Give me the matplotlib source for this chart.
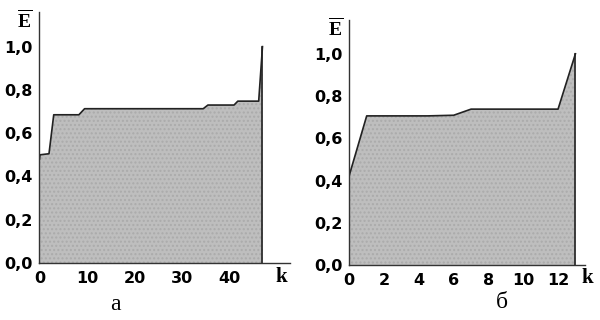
import matplotlib
matplotlib.use("Agg")
import matplotlib.pyplot as plt

plt.rcParams["mathtext.fontset"] = "custom"
plt.rcParams["mathtext.rm"] = "Liberation Serif"
plt.rcParams["mathtext.bf"] = "Liberation Serif:bold"

# Panel a data
k_a = [0, 0.1, 2, 3, 8.3, 9.5, 34.5, 35.5, 41, 41.8, 46.2, 47]
e_a = [0.48, 0.50, 0.505, 0.685, 0.685, 0.713, 0.713, 0.730, 0.730, 0.748, 0.748, 1.0]
xticks_a = [0, 10, 20, 30, 40]

# Panel b data
k_b = [0, 1, 4.5, 6, 7, 12, 13]
e_b = [0.425, 0.706, 0.706, 0.709, 0.738, 0.738, 1.0]
xticks_b = [0, 2, 4, 6, 8, 10, 12]

yticks = [0.0, 0.2, 0.4, 0.6, 0.8, 1.0]
ytick_labels = ["0,0", "0,2", "0,4", "0,6", "0,8", "1,0"]

fig = plt.figure(figsize=(6, 3.2), dpi=100)
fig.patch.set_facecolor("white")

fill_col = "#bebebe"

def draw(ax, k, e, xticks, xmax, label_char, label_xy, k_xy, e_xy):
    ax.fill_between(k, 0, e, facecolor=fill_col, edgecolor="#ababab",
                    hatch="....", linewidth=0)
    ax.plot(k, e, color="#222222", lw=1.2)
    ax.plot([k[-1], k[-1]], [0, e[-1]], color="#222222", lw=1.2)
    ax.plot([k[0], k[0]], [0, e[0]], color="#222222", lw=1.2)
    ax.set_xlim(0, xmax)
    ax.set_ylim(0, 1.16)
    for s in ["top", "right"]:
        ax.spines[s].set_visible(False)
    for s in ["left", "bottom"]:
        ax.spines[s].set_color("#333333")
        ax.spines[s].set_linewidth(1.0)
    ax.set_xticks(xticks)
    ax.set_xticklabels([str(t) for t in xticks], fontweight="heavy", fontsize=11.5,
                       family="DejaVu Sans")
    ax.set_yticks(yticks)
    ax.set_yticklabels(ytick_labels, fontweight="heavy", fontsize=11.5,
                       family="DejaVu Sans")
    ax.tick_params(axis="both", length=0, pad=5)
    ax.tick_params(axis="x", pad=6)
    ax.set_facecolor("white")
    fig.text(k_xy[0] / 600, 1 - k_xy[1] / 320, "k", family="Liberation Serif",
             fontweight="bold", fontsize=15, ha="center", va="center")
    fig.text(e_xy[0] / 600, 1 - e_xy[1] / 320, "$\\mathbf{\\overline{E}}$",
             fontsize=14, ha="center", va="center")
    fig.text(label_xy[0] / 600, 1 - label_xy[1] / 320, label_char,
             family="Liberation Serif", fontsize=17, ha="center", va="center")

ax1 = fig.add_axes([39.5 / 600, 1 - 263 / 320, (290 - 39.5) / 600, (263 - 12) / 320])
draw(ax1, k_a, e_a, xticks_a, 52.8, "а", (115, 305), (281, 277), (25, 20))

ax2 = fig.add_axes([349.3 / 600, 1 - 265 / 320, (585 - 349.3) / 600, (265 - 20) / 320])
draw(ax2, k_b, e_b, xticks_b, 13.55, "б", (502, 302), (587, 278), (336, 28))

fig.savefig("out.png", dpi=100, facecolor="white")
